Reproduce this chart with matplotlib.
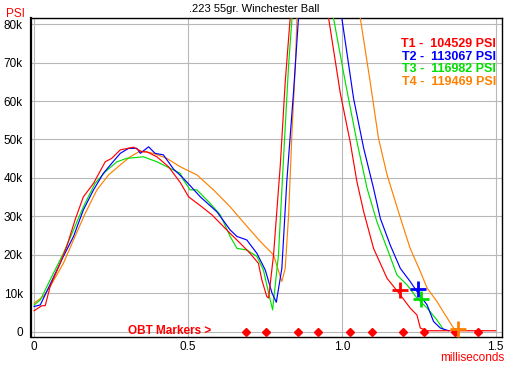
import matplotlib
matplotlib.use("Agg")
import matplotlib.pyplot as plt
from matplotlib.ticker import FuncFormatter

# pressure traces, x in ms, y in PSI (peaks clipped above the axis top)
t1_x = [0.0, 0.025, 0.036, 0.052, 0.085, 0.106, 0.133, 0.160, 0.193, 0.231, 0.252, 0.280, 0.323,
        0.350, 0.366, 0.399, 0.437, 0.475, 0.502, 0.545, 0.578, 0.610, 0.637, 0.670, 0.702, 0.729,
        0.740, 0.756, 0.762, 0.778, 0.800, 0.816, 0.832, 0.895, 0.957, 0.995, 1.027, 1.049, 1.071,
        1.103, 1.147, 1.190, 1.222, 1.244, 1.255, 1.277, 1.500]
t1_y = [5500, 6800, 6800, 11800, 17900, 22200, 29100, 35100, 38600, 44200, 45100, 47300, 48000,
        46800, 46800, 45500, 42900, 38800, 35100, 32500, 30400, 27800, 25600, 23000, 20400, 17800,
        13500, 9200, 8800, 20000, 43400, 65000, 81500, 104529, 81500, 62000, 49400, 39000, 31200,
        21700, 13900, 9600, 6200, 4400, 1000, 300, 300]

t2_x = [0.0, 0.020, 0.041, 0.095, 0.128, 0.160, 0.193, 0.225, 0.252, 0.280, 0.307, 0.334, 0.345,
        0.372, 0.393, 0.420, 0.453, 0.480, 0.507, 0.540, 0.594, 0.637, 0.659, 0.691, 0.724, 0.751,
        0.773, 0.787, 0.805, 0.821, 0.843, 0.859, 0.930, 1.000, 1.038, 1.071, 1.103, 1.125, 1.157,
        1.190, 1.222, 1.244, 1.277, 1.298, 1.320, 1.347]
t2_y = [6600, 7000, 10500, 19600, 24800, 31700, 36900, 41200, 43800, 46400, 47700, 47700, 46400,
        48100, 46400, 46000, 42300, 40300, 38000, 35100, 31200, 26500, 24800, 23900, 20400, 16100,
        10100, 7700, 16500, 39000, 62400, 81500, 113067, 81500, 60700, 47700, 37300, 29500, 22600,
        16500, 13100, 10500, 7000, 2700, 1000, 300]

t3_x = [0.0, 0.020, 0.052, 0.095, 0.128, 0.160, 0.198, 0.231, 0.269, 0.301, 0.355, 0.399, 0.442,
        0.475, 0.485, 0.507, 0.529, 0.572, 0.605, 0.637, 0.659, 0.691, 0.724, 0.745, 0.762, 0.775,
        0.794, 0.811, 0.827, 0.838, 0.905, 0.973, 1.011, 1.049, 1.082, 1.114, 1.147, 1.179, 1.212,
        1.244, 1.277, 1.309, 1.331]
t3_y = [7000, 8300, 13500, 20400, 26500, 32500, 38600, 41600, 44200, 45100, 45500, 44200, 42500,
        41200, 39500, 36900, 36900, 33400, 30400, 24800, 21700, 21300, 19600, 16100, 10100, 5700,
        20000, 46000, 69400, 81500, 116982, 81500, 65000, 49400, 37300, 28600, 21700, 14800, 12200,
        8800, 6200, 3100, 500]

t4_x = [0.0, 0.030, 0.052, 0.095, 0.128, 0.166, 0.204, 0.242, 0.280, 0.312, 0.345, 0.388, 0.431,
        0.475, 0.529, 0.583, 0.637, 0.691, 0.735, 0.778, 0.805, 0.816, 0.827, 0.838, 0.849, 0.854,
        0.955, 1.060, 1.092, 1.119, 1.147, 1.174, 1.201, 1.222, 1.255, 1.277, 1.309, 1.336, 1.363,
        1.374]
t4_y = [7500, 9200, 11800, 17800, 23900, 30800, 36900, 40800, 43400, 45500, 47000, 46400, 45100,
        42900, 40800, 36900, 32500, 27500, 23500, 20000, 13100, 16500, 30400, 52000, 69400, 81500,
        119469, 81500, 65000, 50300, 40800, 33800, 26900, 21700, 15700, 11400, 7900, 4400, 1000, 300]

peaks = [104529, 113067, 116982, 119469]
labels = ["T1", "T2", "T3", "T4"]
colors = ["#ff0000", "#0000ff", "#00e000", "#ff8000"]

# end-of-trace crosses
cross_x = [1.189, 1.247, 1.257, 1.376]
cross_y = [10900, 11200, 8600, 700]

obt_x = [0.688, 0.754, 0.857, 0.924, 1.027, 1.098, 1.199, 1.268, 1.369, 1.442]


def main():
    plt.rcParams['font.family'] = ['Liberation Sans', 'DejaVu Sans']
    fig = plt.figure(figsize=(5.09, 3.65), dpi=100)
    ax = fig.add_axes([0.061, 0.077, 0.925, 0.874])

    traces = [(t1_x, t1_y), (t2_x, t2_y), (t3_x, t3_y), (t4_x, t4_y)]
    # draw orange first so red ends up on top like the original
    for i in [3, 2, 1, 0]:
        xs, ys = traces[i]
        ax.plot(xs, ys, color=colors[i], lw=0.85, zorder=3)

    for i in range(4):
        ax.plot(cross_x[i], cross_y[i], marker='+', ms=11, mew=2,
                color=colors[i], zorder=5)

    ax.plot(obt_x, [0] * len(obt_x), ls='none', marker='D', ms=4,
            color='#ff0000', zorder=4)
    ax.text(0.575, 300, "OBT Markers >", color='#ff0000', fontsize=8.5,
            fontweight='bold', ha='right', va='center')

    for i in range(4):
        ax.text(0.9875, 0.917 - i * 0.039,
                "%s -  %d PSI" % (labels[i], peaks[i]),
                transform=ax.transAxes, color=colors[i], fontsize=9,
                fontweight='bold', ha='right', va='center')

    ax.set_xlim(-0.01, 1.52)
    ax.set_ylim(-1300, 81600)
    ax.set_xticks([0, 0.5, 1.0, 1.5])
    ax.set_xticklabels(["0", "0.5", "1.0", "1.5"])
    ax.set_yticks(range(0, 80001, 10000))
    ax.yaxis.set_major_formatter(FuncFormatter(
        lambda v, p: "0" if v == 0 else "%dk" % (v / 1000)))
    ax.tick_params(length=0, labelsize=8.5)
    ax.tick_params(axis='y', pad=6)
    ax.tick_params(axis='x', pad=3)
    ax.grid(True, color='#b8b8b8', lw=0.8)
    ax.set_axisbelow(True)
    for s in ax.spines.values():
        s.set_color('black')
        s.set_linewidth(1.0)
    ax.spines['left'].set_linewidth(1.6)

    fig.text(0.5, 0.975, ".223 55gr. Winchester Ball", ha='center', va='center',
             fontsize=8)
    fig.text(0.012, 0.963, "PSI", color='#ff0000', ha='left', va='center',
             fontsize=8.5)
    fig.text(0.99, 0.003, "milliseconds", color='#ff0000', ha='right',
             va='bottom', fontsize=8.5)

    fig.savefig("out.png", dpi=100)


if __name__ == "__main__":
    main()
